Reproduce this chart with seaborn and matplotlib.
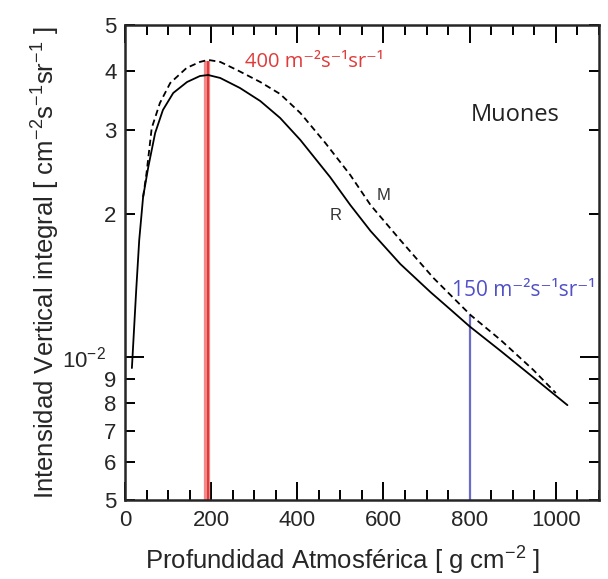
import matplotlib
matplotlib.use("Agg")
import matplotlib.pyplot as plt
import matplotlib.ticker as mticker
import seaborn as sns
import pandas as pd

# -----------------------------
# Data
# -----------------------------
# curve R (solid)
r_depth = [16, 26, 33, 42, 54, 70, 88, 112, 144, 174, 193, 221, 267, 314, 360, 407,
           476, 523, 570, 639, 709, 755, 800, 872, 955, 1027]
r_flux = [9.48e-3, 1.383e-2, 1.763e-2, 2.172e-2, 2.511e-2, 2.963e-2, 3.312e-2, 3.597e-2,
          3.793e-2, 3.905e-2, 3.924e-2, 3.868e-2, 3.684e-2, 3.459e-2, 3.187e-2, 2.864e-2,
          2.393e-2, 2.089e-2, 1.842e-2, 1.57e-2, 1.37e-2, 1.26e-2, 1.16e-2, 1.03e-2,
          8.95e-3, 7.92e-3]

# curve M (dashed)
m_depth = [42, 50, 62, 81, 105, 143, 174, 193, 221, 260, 314, 360, 407, 465, 523, 570,
           639, 716, 802, 872, 948, 1000]
m_flux = [2.172e-2, 2.440e-2, 3.034e-2, 3.426e-2, 3.775e-2, 4.061e-2, 4.181e-2, 4.222e-2,
          4.181e-2, 4.020e-2, 3.793e-2, 3.579e-2, 3.264e-2, 2.823e-2, 2.416e-2, 2.089e-2,
          1.763e-2, 1.467e-2, 1.226e-2, 1.086e-2, 9.39e-3, 8.4e-3]

# vertical markers
red_x, red_top = 190, 4.2e-2
blue_x, blue_top = 800, 1.226e-2

y_minor_vals = [5e-3, 6e-3, 7e-3, 8e-3, 9e-3, 2e-2, 3e-2, 4e-2, 5e-2]
y_minor_labels = ["5", "6", "7", "8", "9", "2", "3", "4", "5"]

df = pd.concat([
    pd.DataFrame({"depth": r_depth, "flux": r_flux, "curve": "R"}),
    pd.DataFrame({"depth": m_depth, "flux": m_flux, "curve": "M"}),
])

# -----------------------------
# Style
# -----------------------------
sns.set_style("ticks")
plt.rcParams['font.family'] = ['Liberation Sans', 'DejaVu Sans']
plt.rcParams['mathtext.fontset'] = 'custom'
plt.rcParams['mathtext.rm'] = 'Liberation Sans'
plt.rcParams['mathtext.it'] = 'Liberation Sans'

fig = plt.figure(figsize=(6.08, 5.79), dpi=100)
ax = fig.add_axes([0.2056, 0.1364, 0.7794, 0.8204])

sns.lineplot(data=df, x="depth", y="flux", style="curve", color="black",
             dashes={"R": "", "M": (3.5, 2.2)}, linewidth=1.3, legend=False,
             sort=False, ax=ax, estimator=None)

# vertical bars
ax.vlines(red_x, 5e-3, red_top, colors="#f08a8a", linewidth=4.5, zorder=1)
ax.vlines(red_x + 3, 5e-3, red_top, colors="#e02828", linewidth=1.2, zorder=1)
ax.vlines(blue_x, 5e-3, blue_top, colors="#6c6cc8", linewidth=1.6, zorder=1)

ax.set_yscale("log")
ax.set_xlim(0, 1100)
ax.set_ylim(5e-3, 5e-2)

# ticks
ax.xaxis.set_major_locator(mticker.MultipleLocator(200))
ax.xaxis.set_minor_locator(mticker.MultipleLocator(50))
ax.yaxis.set_major_locator(mticker.FixedLocator([1e-2]))
ax.yaxis.set_major_formatter(mticker.FixedFormatter([r"$10^{-2}$"]))
ax.yaxis.set_minor_locator(mticker.FixedLocator(y_minor_vals))
ax.yaxis.set_minor_formatter(mticker.FixedFormatter(y_minor_labels))

ax.tick_params(which="both", direction="in", top=True, right=True, labelsize=16,
               width=1.4, color="black")
ax.tick_params(axis="x", which="major", length=13, pad=7)
ax.tick_params(axis="x", which="minor", length=7.5)
ax.tick_params(axis="y", which="major", length=14, pad=14)
ax.tick_params(axis="y", which="minor", length=7, labelsize=16, pad=6)

for s in ax.spines.values():
    s.set_linewidth(1.8)

ax.set_xlabel(r"Profundidad Atmosférica [ g cm$^{-2}$ ]", fontsize=18.5, labelpad=10, x=0.46)
ax.set_ylabel(r"Intensidad Vertical integral [ cm$^{-2}$s$^{-1}$sr$^{-1}$ ]",
              fontsize=18.5, labelpad=0)

# annotations
ax.text(279, 4.18e-2, "400 m⁻²s⁻¹sr⁻¹", color="#e03a3a", fontsize=14.5,
        va="center", ha="left", family=["Open Sans", "DejaVu Sans"])
ax.text(760, 1.38e-2, "150 m⁻²s⁻¹sr⁻¹", color="#5050c8", fontsize=15,
        va="center", ha="left", family=["Open Sans", "DejaVu Sans"])
ax.text(802, 3.23e-2, "Muones", color="#222222", fontsize=17,
        va="center", ha="left", family=["Open Sans", "DejaVu Sans"])
ax.text(488, 1.99e-2, "R", color="#333333", fontsize=12, va="center", ha="center")
ax.text(600, 2.19e-2, "M", color="#333333", fontsize=12, va="center", ha="center")

fig.savefig("out.png", dpi=100)
